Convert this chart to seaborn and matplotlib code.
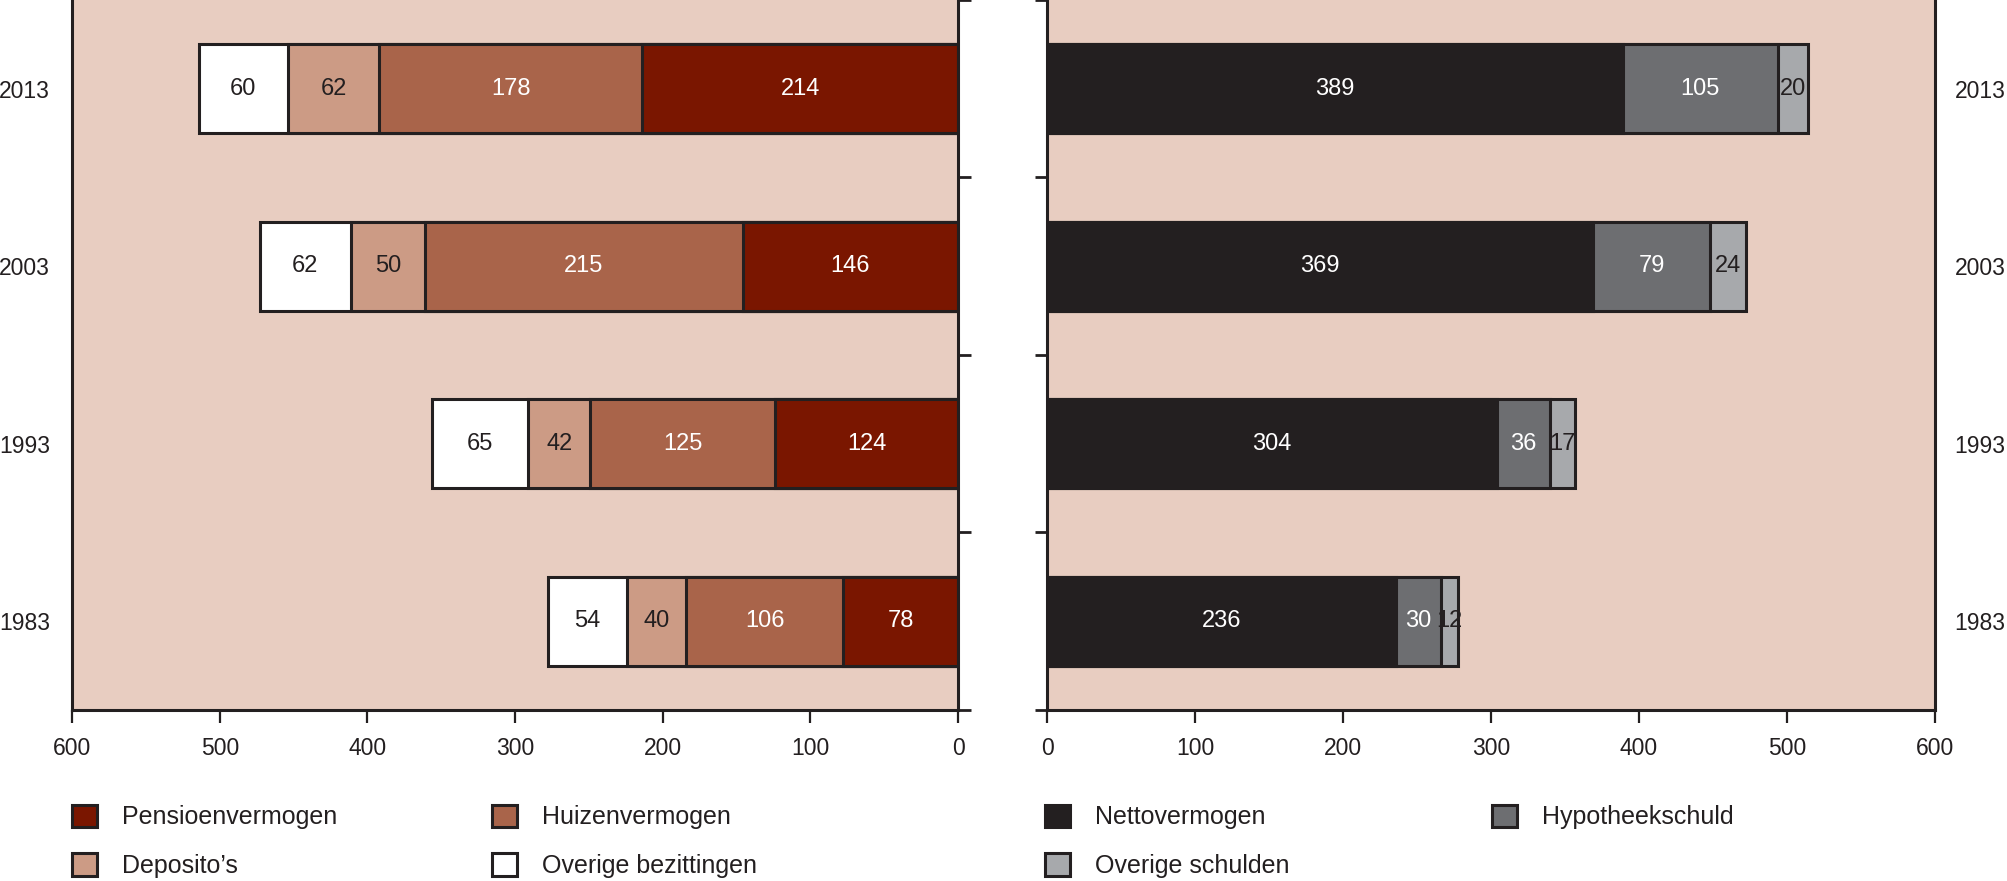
import numpy as np
import matplotlib
matplotlib.use("Agg")
import matplotlib.pyplot as plt
from matplotlib.ticker import FixedLocator
from matplotlib.patches import Patch
import seaborn as sns

# -------------------------------
# Data (miljard euro)
# -------------------------------
years = ["2013", "2003", "1993", "1983"]

# bezittingen (links)
pensioen = [214, 146, 124, 78]
huizen = [178, 215, 125, 106]
deposito = [62, 50, 42, 40]
overig_bez = [60, 62, 65, 54]

# nettovermogen + schulden (rechts)
netto = [389, 369, 304, 236]
hypotheek = [105, 79, 36, 30]
overig_sch = [20, 24, 17, 12]

x_ticks = [0, 100, 200, 300, 400, 500, 600]
boundaries = [-0.5, 0.5, 1.5, 2.5, 3.5]

# colours
c_pens = "#7a1600"
c_huis = "#a9644a"
c_depo = "#cc9b85"
c_ovb = "#ffffff"
c_netto = "#231f20"
c_hypo = "#6d6e71"
c_ovs = "#a7a9ac"
bg = "#e8cdc1"
ink = "#231f20"

sns.set_theme(style="white")
plt.rcParams["font.family"] = ["Liberation Sans", "DejaVu Sans"]

fig = plt.figure(figsize=(20.07, 8.81), dpi=100)
ax_l = fig.add_axes([0.0359, 0.1941, 0.4415, 0.8059])
ax_r = fig.add_axes([0.5217, 0.1941, 0.4424, 0.8059])


def stacked(ax, parts, colors, txtcolors):
    # cumulative bars drawn largest first so they look stacked
    cum = np.zeros(len(years))
    cums = []
    for p in parts:
        cum = cum + np.array(p)
        cums.append(cum.copy())
    for c, col in reversed(list(zip(cums, colors))):
        sns.barplot(x=c, y=years, color=col, width=0.5, saturation=1,
                    edgecolor=ink, linewidth=2.2, orient="h", ax=ax)
    for p, c, tc in zip(parts, cums, txtcolors):
        for i, (v, e) in enumerate(zip(p, c)):
            ax.text(e - v / 2, i, str(v), ha="center", va="center",
                    color=tc, fontsize=17)


stacked(ax_l, [pensioen, huizen, deposito, overig_bez],
        [c_pens, c_huis, c_depo, c_ovb],
        ["white", "white", ink, ink])
stacked(ax_r, [netto, hypotheek, overig_sch],
        [c_netto, c_hypo, c_ovs],
        ["white", "white", ink])

# -------------------------------
# Axes styling
# -------------------------------
for ax in (ax_l, ax_r):
    ax.set_facecolor(bg)
    ax.set_ylim(3.5, -0.5)
    ax.set_xlabel("")
    ax.set_ylabel("")
    ax.set_xticks(x_ticks)
    ax.tick_params(axis="x", which="major", bottom=True, direction="out",
                   length=9.5, width=1.6, color=ink, labelsize=16.5,
                   labelcolor=ink, pad=10)
    ax.spines["top"].set_visible(False)
    for s in ["left", "right", "bottom"]:
        ax.spines[s].set_visible(True)
        ax.spines[s].set_color(ink)
        ax.spines[s].set_linewidth(2.2)
    ax.yaxis.set_minor_locator(FixedLocator(boundaries))

ax_l.set_xlim(600, 0)
ax_l.tick_params(axis="y", which="major", left=False, right=False,
                 length=0, labelsize=16.5, labelcolor=ink, pad=16)
ax_l.tick_params(axis="y", which="minor", left=False, right=True,
                 direction="out", length=9, width=2, color=ink)

ax_r.set_xlim(0, 600)
ax_r.tick_params(axis="y", which="major", left=False, right=False,
                 labelleft=False, labelright=True, length=0,
                 labelsize=16.5, labelcolor=ink, pad=14)
ax_r.tick_params(axis="y", which="minor", left=True, right=False,
                 direction="out", length=9, width=2, color=ink)

# -------------------------------
# Legends
# -------------------------------
leg_l = [
    Patch(facecolor=c_pens, edgecolor=ink, linewidth=2.2, label="Pensioenvermogen"),
    Patch(facecolor=c_depo, edgecolor=ink, linewidth=2.2, label="Deposito’s"),
    Patch(facecolor=c_huis, edgecolor=ink, linewidth=2.2, label="Huizenvermogen"),
    Patch(facecolor=c_ovb, edgecolor=ink, linewidth=2.2, label="Overige bezittingen"),
]
leg_r = [
    Patch(facecolor=c_netto, edgecolor=ink, linewidth=2.2, label="Nettovermogen"),
    Patch(facecolor=c_ovs, edgecolor=ink, linewidth=2.2, label="Overige schulden"),
    Patch(facecolor=c_hypo, edgecolor=ink, linewidth=2.2, label="Hypotheekschuld"),
]

common = dict(loc="upper left", ncol=2, frameon=False, fontsize=18,
              handlelength=1.0, handleheight=1.0, handletextpad=1.0,
              labelspacing=0.96, borderpad=0, borderaxespad=0,
              labelcolor=ink)
fig.legend(handles=leg_l, bbox_to_anchor=(0.0359, 0.0868),
           columnspacing=6.2, **common)
fig.legend(handles=leg_r, bbox_to_anchor=(0.5207, 0.0868),
           columnspacing=8.1, **common)

fig.savefig("out.png", dpi=100)
